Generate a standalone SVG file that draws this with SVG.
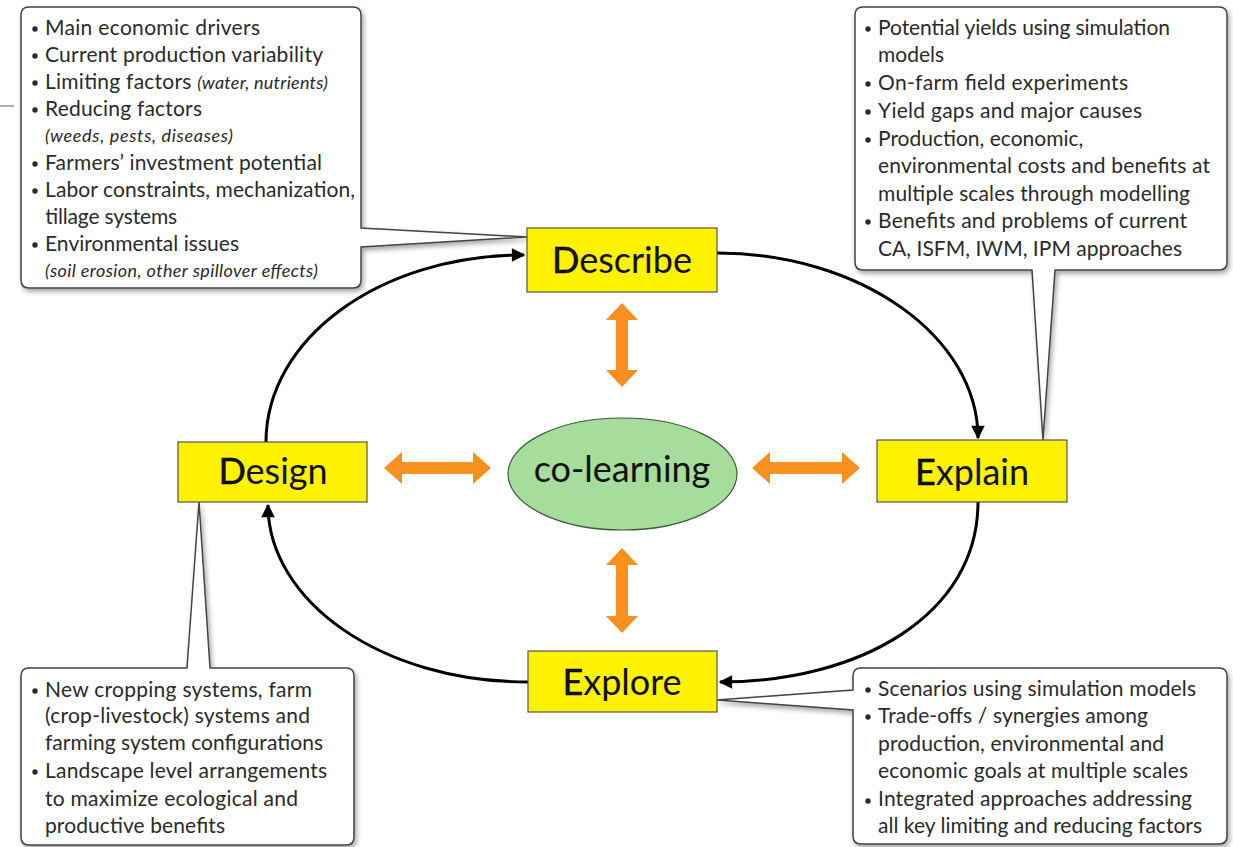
<svg xmlns="http://www.w3.org/2000/svg" width="1233" height="847" viewBox="0 0 1233 847">
<defs>
<style>
.call{fill:#fff;stroke:#444;stroke-width:1.5;filter:url(#sh)}
.ct{font-family:Lato,"Open Sans","Liberation Sans",sans-serif;font-size:21px;fill:#2a2a2a}
.it{font-style:italic;font-size:18px}
.bul{fill:#2a2a2a}
.node{fill:#fff200;stroke:#555;stroke-width:1.2}
.nt{font-family:Lato,"Open Sans","Liberation Sans",sans-serif;font-size:36px;fill:#111;text-anchor:middle}
.first{stroke:#000;stroke-width:0.5}
.flow{fill:none;stroke:#000;stroke-width:3;marker-end:url(#ah)}
.dbl{fill:#f7901e}
</style>
<filter id="sh" x="-10%" y="-10%" width="125%" height="130%">
<feDropShadow dx="2" dy="3" stdDeviation="2.5" flood-color="#000" flood-opacity="0.35"/>
</filter>
<marker id="ah" viewBox="0 0 10 10" refX="9" refY="5" markerWidth="5" markerHeight="4.5" orient="auto" markerUnits="strokeWidth">
<path d="M0,0 L10,5 L0,10 Z" fill="#000"/>
</marker>
</defs>
<rect width="1233" height="847" fill="#fff"/>
<line x1="0" y1="106" x2="14" y2="106" stroke="#777" stroke-width="1.2"/>

<g id="callout-describe">
<path class="call" d="M29,7 H353 Q361,7 361,15 V228 L527,237 L361,247 V280 Q361,288 353,288 H29 Q21,288 21,280 V15 Q21,7 29,7 Z"/>
<g class="bul"><circle cx="35" cy="29" r="2.7"/><circle cx="35" cy="56" r="2.7"/><circle cx="35" cy="83" r="2.7"/><circle cx="35" cy="110" r="2.7"/><circle cx="35" cy="164" r="2.7"/><circle cx="35" cy="191" r="2.7"/><circle cx="35" cy="245" r="2.7"/></g>
<text class="ct" x="45" y="35" textLength="215">Main economic drivers</text>
<text class="ct" x="45" y="62" textLength="278">Current production variability</text>
<text class="ct" x="45" y="89" textLength="283">Limiting factors <tspan class="it">(water, nutrients)</tspan></text>
<text class="ct" x="45" y="116" textLength="157">Reducing factors</text>
<text class="ct it" x="45" y="142" textLength="188">(weeds, pests, diseases)</text>
<text class="ct" x="45" y="170" textLength="277">Farmers’ investment potential</text>
<text class="ct" x="45" y="197" textLength="310">Labor constraints, mechanization,</text>
<text class="ct" x="45" y="224" textLength="132">tillage systems</text>
<text class="ct" x="45" y="251" textLength="194">Environmental issues</text>
<text class="ct it" x="45" y="277" textLength="273">(soil erosion, other spillover effects)</text>
</g>

<g id="callout-explain">
<path class="call" d="M863,7 H1219 Q1227,7 1227,15 V262 Q1227,270 1219,270 H1055 L1043,440 L1032,270 H863 Q855,270 855,262 V15 Q855,7 863,7 Z"/>
<g class="bul"><circle cx="868" cy="29" r="2.7"/><circle cx="868" cy="84" r="2.7"/><circle cx="868" cy="112" r="2.7"/><circle cx="868" cy="140" r="2.7"/><circle cx="868" cy="222" r="2.7"/></g>
<text class="ct" x="878" y="35" textLength="292">Potential yields using simulation</text>
<text class="ct" x="878" y="62">models</text>
<text class="ct" x="878" y="90" textLength="250">On-farm field experiments</text>
<text class="ct" x="878" y="118" textLength="264">Yield gaps and major causes</text>
<text class="ct" x="878" y="146">Production, economic,</text>
<text class="ct" x="878" y="173" textLength="332">environmental costs and benefits at</text>
<text class="ct" x="878" y="201" textLength="312">multiple scales through modelling</text>
<text class="ct" x="878" y="228" textLength="309">Benefits and problems of current</text>
<text class="ct" x="878" y="256" textLength="304">CA, ISFM, IWM, IPM approaches</text>
</g>

<g id="callout-design">
<path class="call" d="M29,668 H187 L199,502 L210,668 H346 Q354,668 354,676 V837 Q354,845 346,845 H29 Q21,845 21,837 V676 Q21,668 29,668 Z"/>
<g class="bul"><circle cx="35" cy="691" r="2.7"/><circle cx="35" cy="772" r="2.7"/></g>
<text class="ct" x="45" y="697" textLength="267">New cropping systems, farm</text>
<text class="ct" x="45" y="723" textLength="265">(crop-livestock) systems and</text>
<text class="ct" x="45" y="750" textLength="278">farming system configurations</text>
<text class="ct" x="45" y="778" textLength="282">Landscape level arrangements</text>
<text class="ct" x="45" y="806" textLength="253">to maximize ecological and</text>
<text class="ct" x="45" y="833" textLength="180">productive benefits</text>
</g>

<g id="callout-explore">
<path class="call" d="M861,668 H1219 Q1227,668 1227,676 V836 Q1227,844 1219,844 H861 Q853,844 853,836 V710 L717,700 L853,690 V676 Q853,668 861,668 Z"/>
<g class="bul"><circle cx="868" cy="690" r="2.7"/><circle cx="868" cy="717" r="2.7"/><circle cx="868" cy="801" r="2.7"/></g>
<text class="ct" x="878" y="696" textLength="318">Scenarios using simulation models</text>
<text class="ct" x="878" y="723" textLength="270">Trade-offs / synergies among</text>
<text class="ct" x="878" y="751" textLength="286">production, environmental and</text>
<text class="ct" x="878" y="778" textLength="310">economic goals at multiple scales</text>
<text class="ct" x="878" y="806" textLength="314">Integrated approaches addressing</text>
<text class="ct" x="878" y="833" textLength="324">all key limiting and reducing factors</text>
</g>

<g id="connectors">
<path class="flow" d="M717,253 C861,253 978,337 978,438"/>
<path class="flow" d="M978,502 C978,615 860,682 720,682"/>
<path class="flow" d="M528,682 C380,682 268,600 268,505"/>
<path class="flow" d="M266,442 C266,340 378,255 524,255"/>
<polygon class="dbl" points="622,303 638,320 628,320 628,370 638,370 622,387 606,370 616,370 616,320 606,320"/>
<polygon class="dbl" points="622,548 638,565 628,565 628,616 638,616 622,633 606,616 616,616 616,565 606,565"/>
<polygon class="dbl" points="384,468 402,452 402,462 473,462 473,452 491,468 473,484 473,474 402,474 402,484"/>
<polygon class="dbl" points="752,468 770,452 770,462 842,462 842,452 860,468 842,484 842,474 770,474 770,484"/>
</g>

<g id="node-describe">
<rect class="node" x="527" y="228" width="190" height="64"/>
<text class="nt" x="622" y="273"><tspan class="first">D</tspan>escribe</text>
</g>
<g id="node-design">
<rect class="node" x="178" y="442" width="189" height="60"/>
<text class="nt" x="273" y="484"><tspan class="first">D</tspan>esign</text>
</g>
<g id="node-explain">
<rect class="node" x="877" y="440" width="190" height="62"/>
<text class="nt" x="972" y="485"><tspan class="first">E</tspan>xplain</text>
</g>
<g id="node-explore">
<rect class="node" x="528" y="651" width="189" height="61"/>
<text class="nt" x="622" y="695"><tspan class="first">E</tspan>xplore</text>
</g>
<g id="node-colearning">
<ellipse cx="622.5" cy="474" rx="114.5" ry="56" fill="#a6dc9c" stroke="#3d5a3a" stroke-width="1.2"/>
<text class="nt" x="622" y="482" font-size="37">co-learning</text>
</g>
</svg>
